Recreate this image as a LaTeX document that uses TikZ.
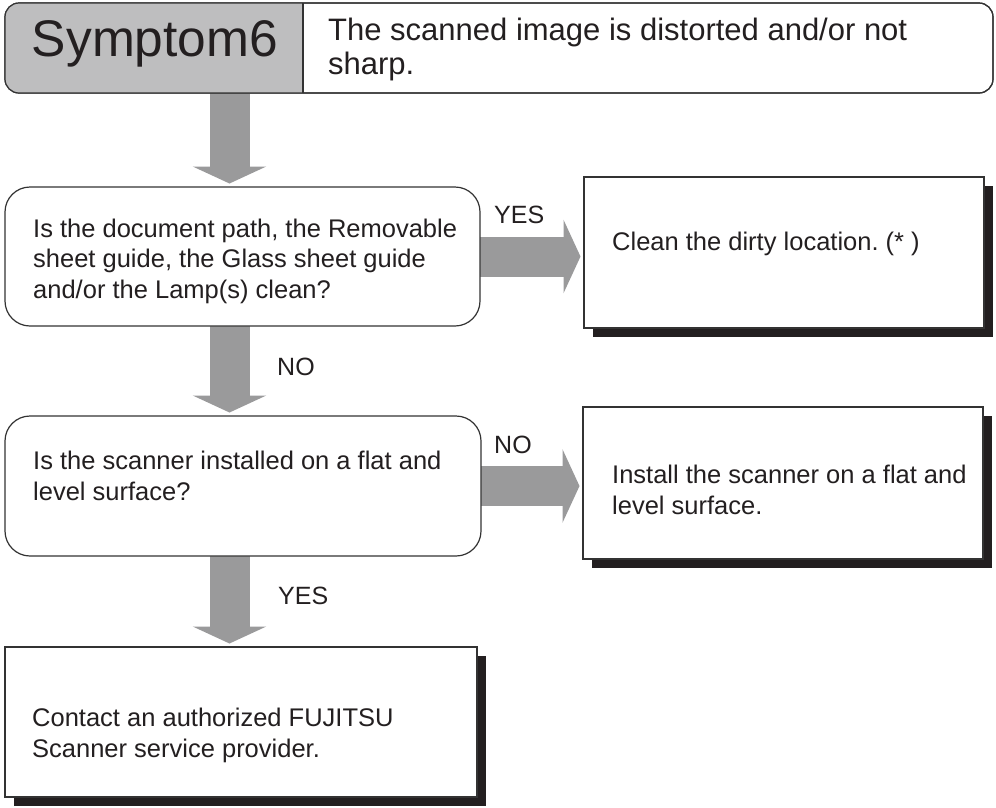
\documentclass[tikz,border=0pt]{standalone}
\usepackage{fontspec}
\setmainfont{Liberation Sans}
\frenchspacing
\usetikzlibrary{arrows.meta,shadows,backgrounds}
\definecolor{hdrgray}{HTML}{BEBEBF}
\definecolor{arrgray}{HTML}{9A9A9B}
\definecolor{edgec}{HTML}{333333}
\definecolor{shadowc}{HTML}{231F20}
\definecolor{txt}{HTML}{231F20}
\begin{document}
\begin{tikzpicture}[x=1pt,y=-1pt,
  frame/.style={draw=edgec, line width=1.2pt, fill=white, inner sep=0pt, outer sep=0pt, anchor=north west},
  qbox/.style={frame, rounded corners=25pt},
  abox/.style={frame, drop shadow={shadow xshift=9pt, shadow yshift=-9pt, fill=shadowc, opacity=1}},
  bodytext/.style={font=\fontsize{25.5}{30.5}\selectfont, text=txt, align=left, anchor=base west, inner sep=0pt},
  lbl/.style={font=\fontsize{25}{31}\selectfont, text=txt, anchor=base west, inner sep=0pt},
  bigarrow/.style={draw=arrgray, line width=40pt, -{Triangle[length=17pt,width=73pt]}, shorten >=3.5pt},
]
\useasboundingbox (0,0) rectangle (996,807);

% header
\node[frame, rounded corners=14pt, minimum width=988pt, minimum height=90pt] (header) at (5,3) {};
\coordinate (div) at (303,0);
\begin{scope}
  \clip (0,0) rectangle (303,100);
  \fill[hdrgray, rounded corners=14pt] (header.north west) rectangle (header.south east);
\end{scope}
\draw[edgec, line width=1.2pt, rounded corners=14pt] (header.north west) rectangle (header.south east);
\draw[edgec, line width=1.2pt] (header.north -| div) -- (header.south -| div);
\node[font=\fontsize{51.5}{52}\selectfont, text=txt, anchor=base, inner sep=0pt] (sym) at (155,56) {Symptom6};
\node[font=\fontsize{31}{34}\selectfont, text=txt, align=left, anchor=base west, inner sep=0pt] (desc) at (328,74) {The scanned image is distorted and/or not\\sharp.};

% question boxes
\node[qbox, minimum width=475pt, minimum height=139pt] (q1) at (5,187) {};
\node[bodytext] (q1t) at (33,298) {Is the document path, the Removable\\sheet guide, the Glass sheet guide\\and/or the Lamp(s) clean?};
\node[qbox, minimum width=476pt, minimum height=140pt] (q2) at (5,416) {};
\node[bodytext] (q2t) at (33,500) {Is the scanner installed on a flat and\\level surface?};

% answer boxes
\node[abox, minimum width=400pt, minimum height=151pt] (aA) at (584,177) {};
\node[bodytext] (aAt) at (612,250) {Clean the dirty location. (* )};
\node[abox, minimum width=400pt, minimum height=152pt] (aB) at (583,407) {};
\node[bodytext] (aBt) at (612,514) {Install the scanner on a flat and\\level surface.};
\node[abox, minimum width=472pt, minimum height=150pt] (aC) at (5,647) {};
\node[bodytext] (aCt) at (32,757) {Contact an authorized FUJITSU\\Scanner service provider.};

% arrows
\coordinate (ax) at (229.5,0);
\begin{scope}[on background layer]
  \draw[bigarrow] (header.south -| ax) -- (q1.north -| ax);
  \draw[bigarrow] (q1.south -| ax) -- (q2.north -| ax);
  \draw[bigarrow] (q2.south -| ax) -- (aC.north -| ax);
  \draw[bigarrow] (q1.east) -- (q1.east -| aA.west);
  \draw[bigarrow] (q2.east) -- (q2.east -| aB.west);
\end{scope}

% labels
\node[lbl] (yes1) at (494,223) {YES};
\node[lbl] (no1) at (277,375) {NO};
\node[lbl] (no2) at (494,453) {NO};
\node[lbl] (yes2) at (278,604) {YES};
\end{tikzpicture}
\end{document}
